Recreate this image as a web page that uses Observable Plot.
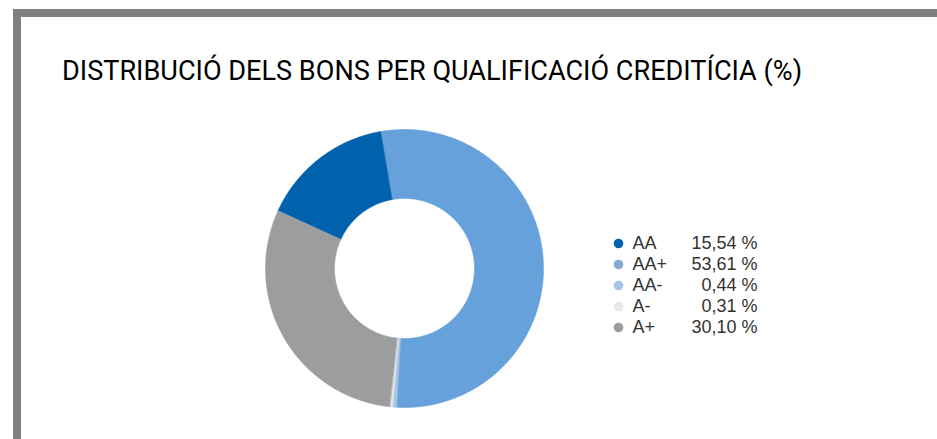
<!DOCTYPE html>
<html>
<head>
<meta charset="utf-8">
<script src="https://cdn.jsdelivr.net/npm/d3@7"></script>
<script src="https://cdn.jsdelivr.net/npm/@observablehq/plot@0.6"></script>
<style>
  html, body { margin: 0; padding: 0; background: #fff; }
  body { width: 937px; height: 439px; position: relative; overflow: hidden; }
  #frame { position: absolute; left: 13px; top: 9px; width: 924px; height: 430px;
           border-top: 8px solid #808080; border-left: 8px solid #808080; box-sizing: border-box; }
  #title { position: absolute; left: 62px; top: 56px; font-family: Roboto, sans-serif;
           font-size: 27.1px; line-height: 30px; color: #000; white-space: nowrap; margin: 0; font-weight: 400; }
  #pie { position: absolute; left: 254px; top: 118px; width: 300px; height: 300px; }
  #legend { position: absolute; left: 605px; top: 230px; width: 160px; height: 110px; }
  #pie svg, #legend svg { max-width: none; display: block; }
</style>
</head>
<body>
<div id="frame"></div>
<h1 id="title">DISTRIBUCIÓ DELS BONS PER QUALIFICACIÓ CREDITÍCIA (%)</h1>
<div id="pie"></div>
<div id="legend"></div>
<script>
const categories = ["AA", "AA+", "AA-", "A-", "A+"];
const values = [15.54, 53.61, 0.44, 0.31, 30.10];
const pieColors = ["#0062ad", "#66a1dc", "#a8c5e5", "#e6e8e8", "#9c9d9f"];
const legendColors = ["#0062ad", "#8aa9d7", "#a8c5e5", "#e8eaea", "#9c9d9f"];

const data = categories.map((c, i) => ({key: c, value: values[i]}));
const startDeg = -65.5;
const pie = d3.pie().value(d => d.value).sort(null)
  .startAngle(startDeg * Math.PI / 180)
  .endAngle((startDeg + 360) * Math.PI / 180);
const arcs = pie(data);

const rOuter = 1, rInner = 70 / 139;
const pts = [];
for (const a of arcs) {
  const n = Math.max(4, Math.ceil((a.endAngle - a.startAngle) / (Math.PI / 360)));
  for (let i = 0; i <= n; i++) {
    const t = a.startAngle + (a.endAngle - a.startAngle) * i / n;
    pts.push({key: a.data.key, x: rOuter * Math.sin(t), y: rOuter * Math.cos(t)});
  }
  for (let i = n; i >= 0; i--) {
    const t = a.startAngle + (a.endAngle - a.startAngle) * i / n;
    pts.push({key: a.data.key, x: rInner * Math.sin(t), y: rInner * Math.cos(t)});
  }
}

const ext = 150 / 139;
const piePlot = Plot.plot({
  width: 300, height: 300,
  margin: 0,
  x: {domain: [-ext, ext], axis: null},
  y: {domain: [-ext, ext], axis: null},
  color: {domain: categories, range: pieColors},
  marks: [
    Plot.line(pts, {x: "x", y: "y", z: "key", fill: "key", stroke: "key", strokeWidth: 0.6, curve: "linear-closed"})
  ]
});
document.getElementById("pie").append(piePlot);

const fmt = v => d3.format(".2f")(v).replace(".", ",") + " %";
const legendPlot = Plot.plot({
  width: 160, height: 110,
  marginTop: 11.7, marginBottom: 12.3, marginLeft: 0, marginRight: 0,
  x: {axis: null},
  y: {type: "point", domain: categories, padding: 0, axis: null},
  color: {domain: categories, range: legendColors},
  style: {fontFamily: "'Liberation Sans', Arial, sans-serif", fontSize: "18px", color: "#333", maxWidth: "none"},
  marks: [
    Plot.dot(data, {y: "key", frameAnchor: "left", dx: 13, r: 4.8, fill: "key", stroke: null}),
    Plot.text(data, {y: "key", text: "key", frameAnchor: "left", dx: 27, textAnchor: "start", fill: "#333", fontSize: 18}),
    Plot.text(data, {y: "key", text: d => fmt(d.value), frameAnchor: "right", dx: -8, textAnchor: "end", fill: "#333", fontSize: 18})
  ]
});
document.getElementById("legend").append(legendPlot);
</script>
</body>
</html>
